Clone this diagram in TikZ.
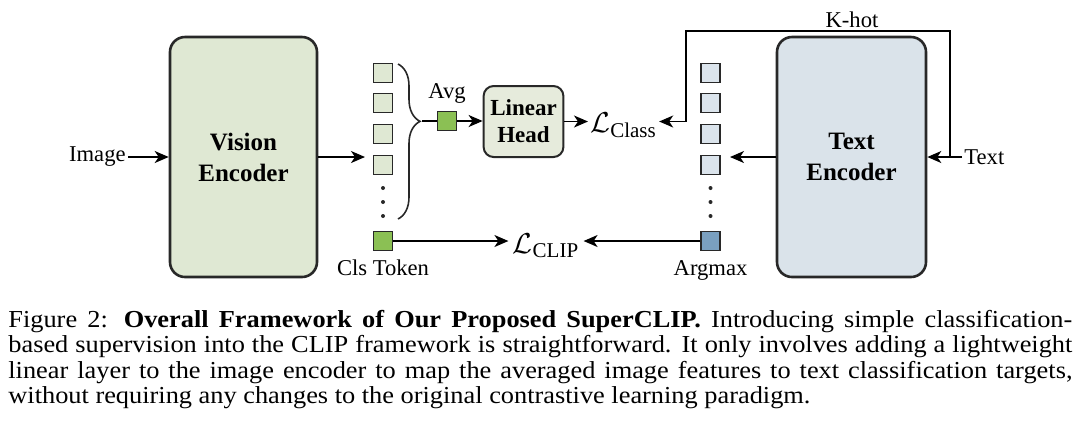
\documentclass[tikz,border=0pt]{standalone}
\usepackage{amsmath}
\usepackage{fontspec}
\setmainfont{Liberation Serif}
\newfontfamily\capfont[FakeStretch=1.08]{Liberation Serif}
\usetikzlibrary{positioning,calc,arrows.meta,decorations.pathreplacing}

\definecolor{visfill}{RGB}{223,232,211}
\definecolor{txtfill}{RGB}{218,227,234}
\definecolor{headfill}{RGB}{230,235,220}
\definecolor{tokgreen}{RGB}{223,232,211}
\definecolor{clsgreen}{RGB}{139,192,84}
\definecolor{tokblue}{RGB}{219,228,236}
\definecolor{argblue}{RGB}{122,160,192}
\definecolor{edge}{RGB}{40,40,40}

\begin{document}
\begin{tikzpicture}[x=0.5pt,y=-0.5pt,
	font=\fontsize{11.3}{13}\selectfont,
	enc/.style={draw=edge, line width=1.3pt, rounded corners=7.5pt, minimum width=73.5pt, minimum height=120pt, align=center, font=\fontsize{12.5}{15.5}\selectfont\bfseries},
	tok/.style={draw=edge, line width=0.7pt, minimum size=9.5pt, inner sep=0pt},
	loss/.style={inner sep=0pt, font=\fontsize{15}{18}\selectfont},
	arr/.style={line width=0.8pt, -{Stealth[length=7pt,width=6pt,inset=2pt]}}]
	\useasboundingbox (0,0) rectangle (1080,420);
	
	% encoders
	\node[enc, fill=visfill] (vis) at (243.5,157) {Vision\\Encoder};
	\node[enc, fill=txtfill, minimum width=74.5pt] (te) at (851.5,157) {Text\\Encoder};
	\node[draw=edge, line width=1pt, rounded corners=5pt, fill=headfill, minimum width=39.5pt, minimum height=35.5pt, align=center, font=\fontsize{11.5}{13.5}\selectfont\bfseries] (head) at (523.5,121.5) {Linear\\Head};
	
	% token columns
	\foreach \i/\y in {1/73,2/103,3/134,4/165} {
		\node[tok, fill=tokgreen] (v\i) at (383,\y) {};
		\node[tok, fill=tokblue] (t\i) at (710.5,\y) {};
	}
	\foreach \y in {188,202,216} {
		\fill[edge] (383,\y) circle (1pt);
		\fill[edge] (710.5,\y) circle (1pt);
	}
	\node[tok, fill=clsgreen] (cls) at (383,241) {};
	\node[tok, fill=argblue] (arg) at (710.5,241) {};
	\node[tok, fill=clsgreen] (avg) at (447,121) {};
	\node[below=1pt of cls] (clslbl) {Cls Token};
	\node[below=1pt of arg] (arglbl) {Argmax};
	\node[above=0pt of avg] (avglbl) {Avg};
	
	% texts
	\node[anchor=east, inner sep=1pt] (img) at (128,157) {Image};
	\node[anchor=west, inner sep=1pt] (txt) at (962,157) {Text};
	\node[loss, anchor=west] (lcls) at (590,125) {$\mathcal{L}_{\text{Class}}$};
	\node[loss] (lclip) at (546,246) {$\mathcal{L}_{\text{CLIP}}$};
	\node (khot) at (852,20) {K-hot};
	\coordinate (vout) at (365,157);
	\coordinate (tout) at (730,157);
	\coordinate (kh) at (950,157);
	\coordinate (brtip) at (422,121);
	
	% brace
	\draw[edge, line width=0.8pt, decorate, decoration={brace, amplitude=11pt, aspect=0.37}] (398,64) -- (398,219);
	
	% arrows
	\draw[arr] (img) -- (vis.west);
	\draw[arr] (vis.east |- vout) -- (vout);
	\draw[line width=0.8pt] (brtip) -- (avg.west);
	\draw[arr] (avg) -- (head.west |- avg);
	\draw[arr] (head.east) -- ([xshift=-1pt]lcls.west |- head.east);
	\draw[arr] (txt.west) -- (te.east |- txt.west);
	\draw[arr] (te.west |- tout) -- (tout);
	\draw[arr] (kh) |- (686,31) |- ([xshift=1pt]lcls.east |- head.east);
	\draw[arr] (cls) -- ([xshift=-2pt]lclip.west |- cls);
	\draw[arr] (arg) -- ([xshift=2pt]lclip.east |- arg);
	
	% caption
	\node[anchor=north west, inner sep=0pt, text width=532pt, align=justify, font=\capfont\fontsize{12.2}{12.7}\selectfont] (cap) at (8,310) {Figure 2: \textbf{Overall Framework of Our Proposed SuperCLIP.} Introducing simple classification-\linebreak based supervision into the CLIP framework is straightforward. It only involves adding a lightweight\linebreak linear layer to the image encoder to map the averaged image features to text classification targets,\linebreak without requiring any changes to the original contrastive learning paradigm.};
\end{tikzpicture}
\end{document}
